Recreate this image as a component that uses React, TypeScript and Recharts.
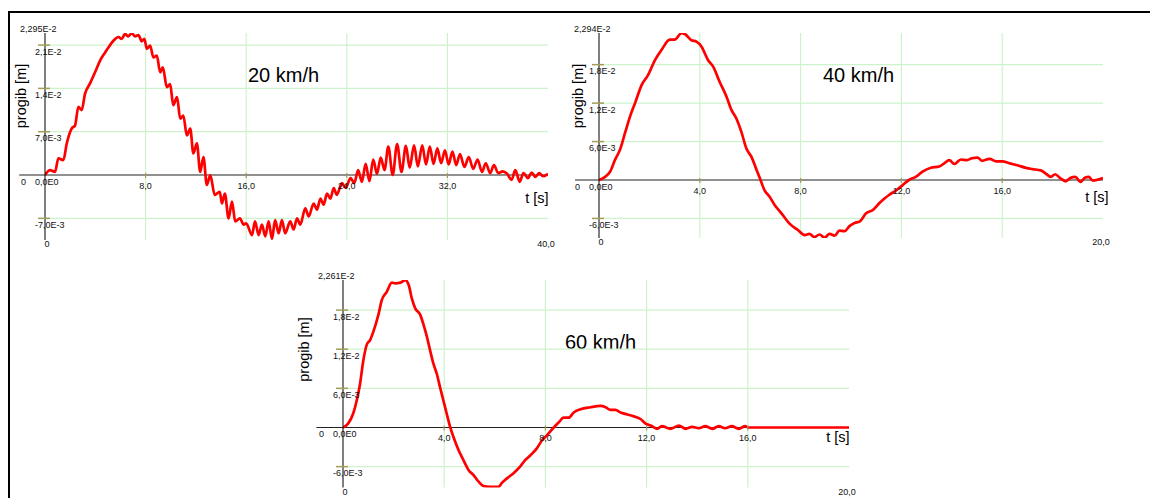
import React from 'react';
import { LineChart, Line, XAxis, YAxis, ReferenceLine, ReferenceDot } from 'recharts';

// ---------- 20 km/h ----------
const time20 = [0, 0.4, 0.8, 1.06, 1.46, 1.73, 2.12, 2.39, 2.65, 2.92, 3.18, 3.58, 3.98, 4.38, 4.78, 5.04, 5.44, 5.84, 6.1, 6.37, 6.6, 6.9, 7.15, 7.43, 7.7, 7.9, 8.1, 8.36, 8.62, 8.89, 9.16, 9.37, 9.69, 9.95, 10.2, 10.5, 10.75, 11.0, 11.28, 11.55, 11.8, 12.08, 12.34, 12.6, 12.87, 13.14, 13.5, 13.9, 14.07, 14.3, 14.6, 14.87, 15.13, 15.5, 15.8, 16.0, 16.46, 16.7, 16.99, 17.25, 17.52, 17.78, 18.05, 18.3, 18.58, 18.84, 19.1, 19.5, 19.77, 20.04, 20.3, 20.7, 20.97, 21.36, 21.63, 21.9, 22.16, 22.42, 22.7, 22.96, 23.2, 23.62, 23.9, 24.3, 24.6, 24.9, 25.2, 25.5, 25.8, 26.1, 26.4, 26.7, 27.0, 27.3, 27.65, 28.0, 28.35, 28.7, 29.0, 29.35, 29.65, 30.0, 30.3, 30.6, 30.9, 31.2, 31.5, 31.8, 32.1, 32.4, 32.7, 33.0, 33.35, 33.7, 34.05, 34.4, 34.75, 35.05, 35.4, 35.7, 36.05, 36.4, 36.75, 37.1, 37.4, 37.75, 38.05, 38.4, 38.7, 39.0, 39.3, 39.6, 40.0];
const defl20 = [0, 0.8, 0.5, 2.7, 2.4, 5.1, 7.5, 8.0, 11.0, 10.5, 13.1, 14.8, 16.6, 18.5, 19.8, 20.6, 21.7, 22.3, 22.0, 22.8, 22.4, 22.9, 22.4, 22.6, 21.6, 22.0, 20.4, 20.9, 19.0, 19.3, 16.6, 17.4, 14.2, 14.7, 11.3, 12.6, 9.1, 9.6, 6.4, 7.5, 3.5, 5.1, 0.5, 2.9, -1.6, 0, -3.2, -2.7, -4.6, -3.0, -7.0, -4.3, -7.5, -7.0, -8.0, -7.8, -9.7, -7.5, -9.7, -8.0, -9.9, -7.5, -10.3, -7.3, -9.4, -7.3, -9.4, -7.5, -8.8, -7.0, -8.0, -5.4, -6.7, -4.6, -5.6, -3.8, -4.8, -3.0, -3.8, -2.1, -3.2, -1.3, -2.1, -0.5, -1.3, 0.8, -1.1, 1.8, -1.0, 2.5, 0.2, 2.8, 0.8, 4.6, 0, 5.0, 0.5, 4.7, 1.2, 4.8, 1.4, 4.8, 1.7, 4.6, 1.8, 4.3, 1.9, 4.0, 1.7, 3.8, 1.6, 3.4, 1.3, 2.9, 1.0, 2.5, 0.5, 1.9, 0.3, 1.6, 0.3, 0.6, 0.2, -0.8, 0.8, -1.1, 0.3, -0.5, 0.4, -0.3, 0.3, -0.2, 0.2];
const yTicks20 = [-7, 0, 7, 14, 21, 22.95];
const yLabels20 = ['-7,0E-3', '0,0E0', '7,0E-3', '1,4E-2', '2,1E-2', '2,295E-2'];
const xTicks20 = [8, 16, 24, 32];
const xLabels20 = ['8,0', '16,0', '24,0', '32,0'];
const xEnds20 = [0, 40];
const xEndLabels20 = ['0', '40,0'];

// ---------- 40 km/h ----------
const time40 = [0, 0.44, 0.63, 0.83, 1.03, 1.23, 1.43, 1.69, 1.95, 2.22, 2.48, 2.81, 3.0, 3.27, 3.4, 3.67, 3.87, 4.07, 4.33, 4.53, 4.79, 5.06, 5.26, 5.45, 5.65, 5.85, 6.05, 6.25, 6.38, 6.57, 6.77, 6.97, 7.24, 7.56, 7.89, 8.16, 8.35, 8.55, 8.75, 8.95, 9.15, 9.35, 9.54, 9.74, 9.94, 10.14, 10.34, 10.6, 10.86, 11.13, 11.33, 11.52, 11.8, 12.05, 12.3, 12.57, 12.84, 13.17, 13.5, 13.7, 13.9, 14.1, 14.36, 14.6, 14.8, 15.02, 15.2, 15.5, 15.76, 16.0, 16.3, 16.6, 16.94, 17.2, 17.53, 17.73, 17.93, 18.1, 18.3, 18.52, 18.7, 18.9, 19.1, 19.3, 19.43, 19.6, 20.0];
const defl40 = [0, 1.3, 3.1, 4.7, 7.3, 9.9, 12.0, 14.8, 16.4, 18.7, 20.3, 21.9, 21.9, 22.9, 22.8, 21.8, 21.6, 20.8, 18.7, 17.7, 15.3, 13.0, 10.9, 9.6, 7.5, 4.9, 3.6, 1.6, 0.3, -1.6, -2.6, -3.9, -5.2, -6.8, -7.8, -8.6, -8.4, -8.9, -8.5, -9.0, -8.4, -8.7, -7.9, -8.0, -7.2, -6.7, -6.5, -5.2, -4.7, -3.6, -2.9, -2.3, -1.6, -0.8, 0, 0.5, 1.3, 1.9, 2.1, 2.6, 3.1, 2.5, 3.2, 3.1, 3.4, 3.5, 3.0, 3.3, 2.9, 2.9, 2.6, 2.3, 1.9, 1.7, 1.5, 1.0, 0.5, 0.9, 0.3, -0.2, 0.3, 0.5, -0.3, 0.4, 0.5, -0.1, 0.3];
const yTicks40 = [-6, 0, 6, 12, 18, 22.94];
const yLabels40 = ['-6,0E-3', '0,0E0', '6,0E-3', '1,2E-2', '1,8E-2', '2,294E-2'];
const xTicks40 = [4, 8, 12, 16];
const xLabels40 = ['4,0', '8,0', '12,0', '16,0'];
const xEnds40 = [0, 20];
const xEndLabels40 = ['0', '20,0'];

// ---------- 60 km/h ----------
const time60 = [0, 0.2, 0.4, 0.54, 0.67, 0.8, 0.94, 1.07, 1.2, 1.4, 1.53, 1.73, 1.93, 2.07, 2.27, 2.46, 2.6, 2.72, 2.85, 3.05, 3.18, 3.31, 3.45, 3.58, 3.71, 3.84, 3.97, 4.1, 4.24, 4.37, 4.57, 4.76, 4.96, 5.16, 5.36, 5.56, 5.82, 6.15, 6.28, 6.48, 6.74, 7.0, 7.2, 7.4, 7.66, 7.86, 8.06, 8.33, 8.53, 8.72, 8.92, 9.12, 9.39, 9.78, 10.18, 10.38, 10.57, 10.77, 10.97, 11.24, 11.5, 11.76, 11.96, 12.16, 12.42, 12.6, 12.95, 13.28, 13.54, 13.8, 14.06, 14.32, 14.6, 14.85, 15.1, 15.37, 15.64, 15.9, 16.03, 20.0];
const defl60 = [0, 0.6, 2.1, 4.1, 6.6, 10.2, 12.7, 13.4, 14.7, 17.3, 19.5, 20.8, 22.2, 22.1, 22.2, 22.6, 21.8, 19.8, 18.3, 17.3, 15.8, 14.0, 11.7, 9.7, 8.2, 6.1, 4.1, 2.1, 0, -1.5, -3.5, -5.0, -6.5, -7.3, -8.3, -9.0, -9.1, -9.1, -8.5, -7.8, -7.0, -6.0, -5.0, -4.3, -3.2, -2.0, -1.2, 0, 0.8, 1.5, 1.5, 2.3, 2.8, 3.1, 3.3, 3.1, 2.7, 2.7, 2.3, 2.0, 1.7, 1.3, 0.6, 0.3, -0.2, 0.2, -0.2, 0.3, -0.2, 0.1, -0.1, 0.2, -0.2, 0.2, -0.1, 0.2, -0.2, 0.2, 0, 0];
const yTicks60 = [-6, 0, 6, 12, 18, 22.61];
const yLabels60 = ['-6,0E-3', '0,0E0', '6,0E-3', '1,2E-2', '1,8E-2', '2,261E-2'];
const xTicks60 = [4, 8, 12, 16];
const xLabels60 = ['4,0', '8,0', '12,0', '16,0'];
const xEnds60 = [0, 20];
const xEndLabels60 = ['0', '20,0'];

const FONT = '"Liberation Sans", Arial, sans-serif';
const GRID = '#cdf3cd';
const OLIVE = '#a39d55';

type Cfg = {
  time: number[]; defl: number[];
  yTicks: number[]; yLabels: string[]; yMin: number;
  xTicks: number[]; xLabels: string[]; xEnds: number[]; xEndLabels: string[];
  zeroStart: number;
  box: { x: number; y: number; w: number; h: number };
  plot: { l: number; r: number; t: number; b: number };
  xAxisH: number;
  title: string; titleX: number; titleY: number;
  tsX: number; tsY: number;
  progX: number; progY: number;
};

const panels: Cfg[] = [
  {
    time: time20, defl: defl20, yTicks: yTicks20, yLabels: yLabels20, yMin: -10.5,
    xTicks: xTicks20, xLabels: xLabels20, xEnds: xEnds20, xEndLabels: xEndLabels20, zeroStart: -2.05,
    box: { x: 10, y: 14, w: 550, h: 244 }, plot: { l: 45, r: 548, t: 33, b: 240 }, xAxisH: 14,
    title: '20 km/h', titleX: 248, titleY: 82, tsX: 548.5, tsY: 203, progX: 21, progY: 96,
  },
  {
    time: time40, defl: defl40, yTicks: yTicks40, yLabels: yLabels40, yMin: -9.05,
    xTicks: xTicks40, xLabels: xLabels40, xEnds: xEnds40, xEndLabels: xEndLabels40, zeroStart: -0.95,
    box: { x: 563, y: 14, w: 567, h: 244 }, plot: { l: 599, r: 1103, t: 33, b: 238 }, xAxisH: 14,
    title: '40 km/h', titleX: 823, titleY: 82, tsX: 1108.5, tsY: 202, progX: 577.5, progY: 96,
  },
  {
    time: time60, defl: defl60, yTicks: yTicks60, yLabels: yLabels60, yMin: -9.2,
    xTicks: xTicks60, xLabels: xLabels60, xEnds: xEnds60, xEndLabels: xEndLabels60, zeroStart: -1.05,
    box: { x: 265, y: 262, w: 605, h: 235 }, plot: { l: 343, r: 849, t: 280, b: 487.5 }, xAxisH: 9,
    title: '60 km/h', titleX: 565, titleY: 348.5, tsX: 849.5, tsY: 441.5, progX: 304, progY: 349.5,
  },
];

function Panel({ c }: { c: Cfg }) {
  const data = c.time.map((t, i) => ({ t, u: c.defl[i] }));
  const yMax = c.yTicks[c.yTicks.length - 1];
  const xMax = c.xEnds[1];
  const yW = 1;
  const margin = {
    left: c.plot.l - c.box.x - yW,
    right: c.box.x + c.box.w - c.plot.r,
    top: c.plot.t - c.box.y,
    bottom: c.box.y + c.box.h - c.plot.b - c.xAxisH,
  };
  const gridY = c.yTicks.filter((v) => v !== 0 && v !== yMax);
  const lx = (px: number) => px - c.box.x;
  const ly = (py: number) => py - c.box.y;

  const yTick = (p: any) => {
    const v = p.payload.value;
    const i = c.yTicks.indexOf(v);
    const label = c.yLabels[i];
    const x = p.x;
    const y = p.y;
    if (v === yMax) {
      return (
        <text x={x - 25} y={y - 1.5} fontSize={9} fontFamily={FONT} fill="#111">{label}</text>
      );
    }
    return (
      <g>
        {v !== 0 && <line x1={x - 7} x2={x + 5} y1={y} y2={y} stroke={OLIVE} strokeWidth={1.5} />}
        {v === 0 && (
          <text x={x - 24} y={y + 9.5} fontSize={9} fontFamily={FONT} fill="#111">0</text>
        )}
        <text x={x - 10} y={y + 9.5} fontSize={9} fontFamily={FONT} fill="#111">{label}</text>
      </g>
    );
  };

  const xTick = (p: any) => {
    const i = c.xEnds.indexOf(p.payload.value);
    return (
      <text x={p.x + (i === 0 ? 2 : -2)} y={p.y + 7} textAnchor="middle" fontSize={9} fontFamily={FONT} fill="#111">
        {c.xEndLabels[i]}
      </text>
    );
  };

  return (
    <div style={{ position: 'absolute', left: c.box.x - 8, top: c.box.y - 8 }}>
      <LineChart width={c.box.w} height={c.box.h} data={data} margin={margin}>
        <XAxis
          dataKey="t" type="number" domain={[0, xMax]} ticks={c.xEnds} interval={0}
          axisLine={false} tickLine={false} tickSize={0} tickMargin={0} height={c.xAxisH}
          tick={xTick} allowDataOverflow
        />
        <YAxis
          type="number" domain={[c.yMin, yMax]} ticks={c.yTicks} interval={0} width={yW}
          axisLine={{ stroke: '#000', strokeWidth: 1 }} tickLine={false} tickSize={0} tickMargin={0}
          tick={yTick} allowDataOverflow
        />
        {gridY.map((v) => (
          <ReferenceLine key={'gy' + v} y={v} stroke={GRID} strokeWidth={1.2} />
        ))}
        {c.xTicks.map((v) => (
          <ReferenceLine key={'gx' + v} x={v} stroke={GRID} strokeWidth={1.2} />
        ))}
        <ReferenceLine
          segment={[{ x: c.zeroStart, y: 0 }, { x: xMax, y: 0 }]}
          stroke="#222" strokeWidth={1.2} ifOverflow="visible"
        />
        {c.xTicks.map((v, i) => (
          <ReferenceDot
            key={'xt' + v} x={v} y={0} r={1} ifOverflow="visible"
            shape={(p: any) => (
              <g>
                <line x1={p.cx} x2={p.cx} y1={p.cy - 2} y2={p.cy + 3} stroke={OLIVE} strokeWidth={1.2} />
                <text x={p.cx} y={p.cy + 13.5} textAnchor="middle" fontSize={9} fontFamily={FONT} fill="#111">
                  {c.xLabels[i]}
                </text>
              </g>
            )}
          />
        ))}
        <Line
          dataKey="u" type="monotone" stroke="#ff0000" strokeWidth={2.7} dot={false}
          activeDot={false} isAnimationActive={false}
        />
        <text x={lx(c.titleX)} y={ly(c.titleY)} fontSize={20} fontFamily={FONT} fill="#000">{c.title}</text>
        <text x={lx(c.tsX)} y={ly(c.tsY)} fontSize={14.5} fontFamily={FONT} fill="#000" textAnchor="end">t [s]</text>
        <text
          x={lx(c.progX)} y={ly(c.progY)} fontSize={14.5} fontFamily={FONT} fill="#000"
          textAnchor="middle" dominantBaseline="central"
          transform={`rotate(-90 ${lx(c.progX)} ${ly(c.progY)})`}
        >
          progib [m]
        </text>
      </LineChart>
    </div>
  );
}

export default function App() {
  return (
    <div style={{ position: 'relative', width: 1150, height: 490 }}>
      <style>{'html,body{overflow:hidden;background:#fff}'}</style>
      <div style={{ position: 'absolute', left: 0, top: 3, width: 1150, height: 2, background: '#000' }} />
      <div style={{ position: 'absolute', left: 0, top: 3, width: 2, height: 487, background: '#000' }} />
      {panels.map((c) => (
        <Panel key={c.title} c={c} />
      ))}
    </div>
  );
}
